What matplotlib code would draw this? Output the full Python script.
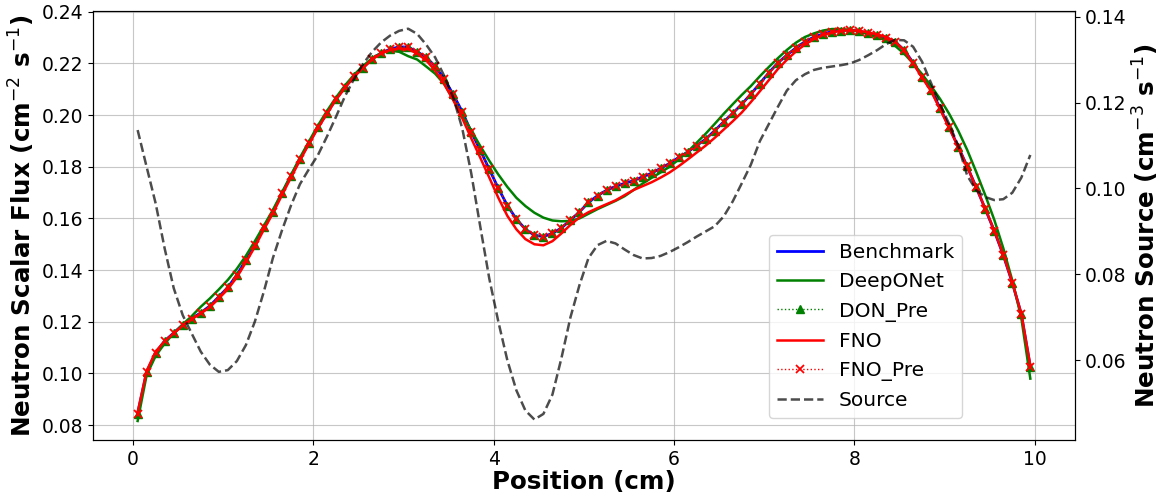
import numpy as np
import matplotlib
matplotlib.use("Agg")
import matplotlib.pyplot as plt

# positions of the cell centres (cm)
position = np.arange(100) * 0.1 + 0.05

benchmark = [
    0.0845, 0.1006, 0.1080, 0.1126, 0.1157, 0.1188, 0.1212, 0.1235, 0.1261, 0.1297,
    0.1333, 0.1381, 0.1439, 0.1497, 0.1565, 0.1626, 0.1697, 0.1764, 0.1830, 0.1892,
    0.1953, 0.2008, 0.2062, 0.2108, 0.2151, 0.2184, 0.2218, 0.2240, 0.2255, 0.2264,
    0.2263, 0.2245, 0.2224, 0.2188, 0.2139, 0.2080, 0.2013, 0.1935, 0.1864, 0.1790,
    0.1717, 0.1650, 0.1598, 0.1558, 0.1535, 0.1530, 0.1542, 0.1563, 0.1594, 0.1625,
    0.1662, 0.1688, 0.1709, 0.1724, 0.1736, 0.1746, 0.1761, 0.1775, 0.1794, 0.1813,
    0.1836, 0.1857, 0.1882, 0.1907, 0.1940, 0.1974, 0.2007, 0.2042, 0.2081, 0.2122,
    0.2164, 0.2202, 0.2232, 0.2260, 0.2284, 0.2302, 0.2314, 0.2323, 0.2327, 0.2329,
    0.2325, 0.2317, 0.2309, 0.2300, 0.2284, 0.2252, 0.2203, 0.2148, 0.2097, 0.2026,
    0.1953, 0.1878, 0.1801, 0.1720, 0.1637, 0.1552, 0.1458, 0.1351, 0.1230, 0.1026,
]

deeponet = [
    0.0816, 0.0994, 0.1068, 0.1116, 0.1155, 0.1190, 0.1222, 0.1258, 0.1290, 0.1325,
    0.1362, 0.1405, 0.1455, 0.1512, 0.1572, 0.1633, 0.1700, 0.1768, 0.1835, 0.1898,
    0.1960, 0.2016, 0.2068, 0.2115, 0.2156, 0.2190, 0.2220, 0.2240, 0.2250, 0.2245,
    0.2228, 0.2215, 0.2188, 0.2160, 0.2120, 0.2060, 0.2000, 0.1940, 0.1880, 0.1823,
    0.1770, 0.1722, 0.1680, 0.1648, 0.1622, 0.1603, 0.1592, 0.1589, 0.1590, 0.1600,
    0.1618, 0.1636, 0.1652, 0.1668, 0.1686, 0.1710, 0.1735, 0.1757, 0.1778, 0.1800,
    0.1828, 0.1858, 0.1893, 0.1928, 0.1966, 0.2005, 0.2042, 0.2078, 0.2112, 0.2150,
    0.2186, 0.2220, 0.2252, 0.2280, 0.2302, 0.2316, 0.2327, 0.2333, 0.2333, 0.2330,
    0.2323, 0.2313, 0.2303, 0.2290, 0.2268, 0.2238, 0.2200, 0.2158, 0.2112, 0.2062,
    0.2005, 0.1940, 0.1865, 0.1780, 0.1690, 0.1595, 0.1485, 0.1360, 0.1215, 0.0980,
]

fno = [
    0.0850, 0.1010, 0.1085, 0.1125, 0.1155, 0.1185, 0.1210, 0.1232, 0.1256, 0.1290,
    0.1326, 0.1372, 0.1430, 0.1490, 0.1557, 0.1620, 0.1690, 0.1758, 0.1825, 0.1888,
    0.1950, 0.2005, 0.2060, 0.2105, 0.2148, 0.2182, 0.2215, 0.2238, 0.2252, 0.2258,
    0.2255, 0.2238, 0.2212, 0.2172, 0.2120, 0.2058, 0.1988, 0.1910, 0.1835, 0.1758,
    0.1680, 0.1610, 0.1558, 0.1520, 0.1500, 0.1496, 0.1512, 0.1542, 0.1575, 0.1604,
    0.1624, 0.1640, 0.1655, 0.1670, 0.1690, 0.1710, 0.1725, 0.1740, 0.1758, 0.1778,
    0.1802, 0.1828, 0.1855, 0.1882, 0.1912, 0.1944, 0.1976, 0.2010, 0.2050, 0.2092,
    0.2135, 0.2178, 0.2214, 0.2246, 0.2273, 0.2294, 0.2310, 0.2320, 0.2326, 0.2328,
    0.2326, 0.2320, 0.2312, 0.2302, 0.2284, 0.2250, 0.2200, 0.2145, 0.2092, 0.2022,
    0.1950, 0.1876, 0.1800, 0.1720, 0.1638, 0.1553, 0.1460, 0.1352, 0.1232, 0.1030,
]

# the two "_Pre" predictions sit on top of the benchmark in the figure
don_pre = list(benchmark)
fno_pre = list(benchmark)

source = [
    0.1136, 0.1050, 0.0965, 0.0860, 0.0768, 0.0705, 0.0662, 0.0620, 0.0590, 0.0573,
    0.0577, 0.0598, 0.0635, 0.0690, 0.0760, 0.0838, 0.0902, 0.0960, 0.1010, 0.1045,
    0.1078, 0.1121, 0.1167, 0.1215, 0.1255, 0.1290, 0.1318, 0.1340, 0.1356, 0.1367,
    0.1372, 0.1360, 0.1335, 0.1305, 0.1262, 0.1212, 0.1140, 0.1035, 0.0911, 0.0790,
    0.0690, 0.0600, 0.0530, 0.0483, 0.0462, 0.0475, 0.0520, 0.0605, 0.0700, 0.0775,
    0.0838, 0.0868, 0.0878, 0.0872, 0.0858, 0.0845, 0.0837, 0.0838, 0.0843, 0.0852,
    0.0863, 0.0875, 0.0888, 0.0900, 0.0912, 0.0935, 0.0970, 0.1012, 0.1055, 0.1110,
    0.1150, 0.1190, 0.1228, 0.1252, 0.1266, 0.1276, 0.1281, 0.1284, 0.1287, 0.1291,
    0.1299, 0.1310, 0.1322, 0.1336, 0.1346, 0.1345, 0.1330, 0.1295, 0.1245, 0.1195,
    0.1150, 0.1100, 0.1030, 0.0996, 0.0980, 0.0973, 0.0975, 0.0990, 0.1025, 0.1078,
]

fig, ax1 = plt.subplots(figsize=(11.64, 4.99), dpi=100)
fig.subplots_adjust(left=0.0799, right=0.9235, bottom=0.118, top=0.9786)

l1, = ax1.plot(position, benchmark, color="blue", lw=2, label="Benchmark")
l2, = ax1.plot(position, deeponet, color="green", lw=1.8, label="DeepONet")
l3, = ax1.plot(position, don_pre, color="green", ls=":", lw=1, marker="^",
               markersize=5.5, label="DON_Pre")
l4, = ax1.plot(position, fno, color="red", lw=1.8, label="FNO")
l5, = ax1.plot(position, fno_pre, color="red", ls=":", lw=1, marker="x",
               markersize=6, markeredgewidth=1.3, label="FNO_Pre")

ax1.set_xlim(-0.445, 10.445)
ax1.set_ylim(0.0742, 0.2404)
ax1.set_yticks(np.arange(0.08, 0.2401, 0.02))
ax1.set_xlabel("Position (cm)", fontsize=17.7, fontweight="bold", labelpad=1)
ax1.set_ylabel("Neutron Scalar Flux (cm$^{-2}$ s$^{-1}$)", fontsize=17.7,
               fontweight="bold", labelpad=3)
ax1.tick_params(labelsize=13.5)
ax1.grid(True, color="#b0b0b0", alpha=0.7)

ax2 = ax1.twinx()
l6, = ax2.plot(position, source, color="k", alpha=0.7, ls="--", lw=1.8, label="Source")
ax2.set_ylim(0.0414, 0.1414)
ax2.set_yticks([0.06, 0.08, 0.10, 0.12, 0.14])
ax2.set_ylabel("Neutron Source (cm$^{-3}$ s$^{-1}$)", fontsize=17.7,
               fontweight="bold", labelpad=3)
ax2.tick_params(labelsize=13.5)

handles = [l1, l2, l3, l4, l5, l6]
ax2.legend(handles, [h.get_label() for h in handles], fontsize=14.5,
           loc="lower left", bbox_to_anchor=(0.688, 0.052), borderaxespad=0,
           handlelength=2.3)

fig.savefig("out.png", dpi=100)
